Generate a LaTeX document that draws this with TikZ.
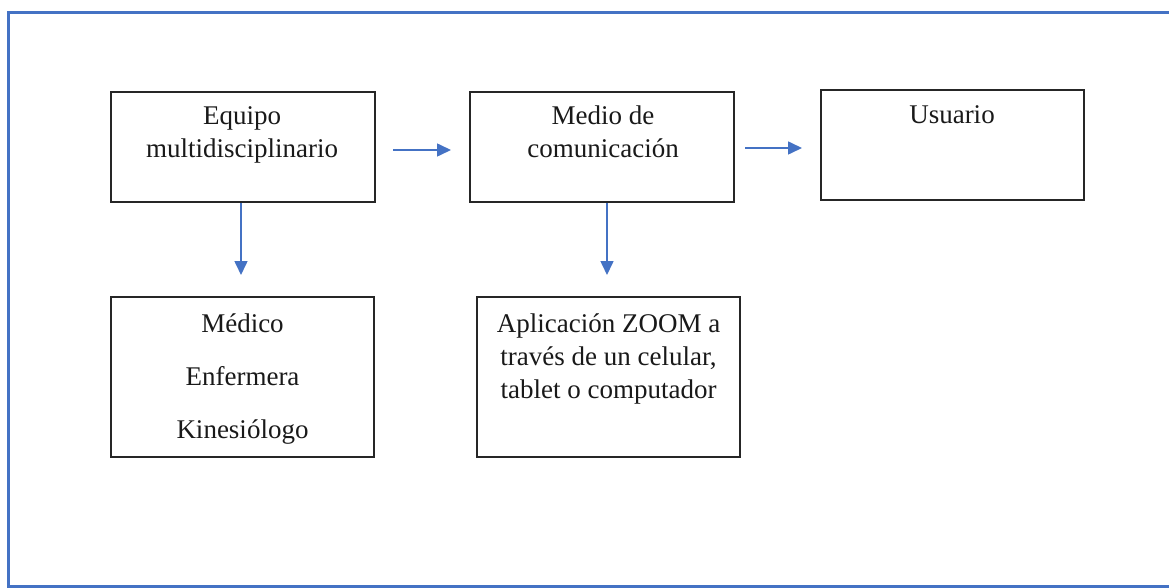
\documentclass[tikz,border=0pt]{standalone}
\usepackage{fontspec}
\setmainfont{Liberation Serif}
\usetikzlibrary{arrows.meta}
\definecolor{bordblue}{HTML}{4472C4}
\definecolor{boxline}{HTML}{262626}
\tikzset{
  box/.style={draw=boxline, line width=1.7pt, inner sep=0pt},
  lbl/.style={anchor=base, inner sep=0pt, font=\fontsize{27}{32}\selectfont, text=black!90},
  flow/.style={draw=bordblue, line width=1.6pt, -{Triangle[length=14pt,width=13pt]}}
}
\begin{document}
\begin{tikzpicture}[x=1pt,y=-1pt]
\useasboundingbox (0,0) rectangle (1169,588);
\draw[bordblue, line width=3pt] (1172,13) -- (8,13) -- (8,586) -- (1172,586);
% boxes
\node[box, minimum width=264pt, minimum height=110pt] (b1) at (243,147) {};
\node[box, minimum width=264pt, minimum height=110pt] (b2) at (602,147) {};
\node[box, minimum width=263pt, minimum height=110pt] (b3) at (952.5,145) {};
\node[box, minimum width=263pt, minimum height=160pt] (b4) at (242.5,377) {};
\node[box, minimum width=263pt, minimum height=160pt] (b5) at (608.5,377) {};
% labels
\node[lbl] (t1a) at (242,125) {Equipo};
\node[lbl] (t1b) at (242,158) {multidisciplinario};
\node[lbl] (t2a) at (603,125) {Medio de};
\node[lbl] (t2b) at (603,158) {comunicación};
\node[lbl] (t3a) at (952,124) {Usuario};
\node[lbl] (t4a) at (242.5,332) {Médico};
\node[lbl] (t4b) at (242.5,385) {Enfermera};
\node[lbl] (t4c) at (242.5,438) {Kinesiólogo};
\node[lbl] (t5a) at (608.5,332) {Aplicación ZOOM a};
\node[lbl] (t5b) at (608.5,365) {través de un celular,};
\node[lbl] (t5c) at (608.5,398) {tablet o computador};
% connectors
\coordinate (h1s) at (393,150);
\coordinate (h1e) at (451,150);
\coordinate (h2s) at (745,148);
\coordinate (h2e) at (802,148);
\coordinate (v1e) at (241,275);
\coordinate (v2e) at (607,275);
\draw[flow] (h1s) -- (h1e);
\draw[flow] (h2s) -- (h2e);
\draw[flow] (b1.south -| v1e) -- (v1e);
\draw[flow] (b2.south -| v2e) -- (v2e);
\end{tikzpicture}
\end{document}
